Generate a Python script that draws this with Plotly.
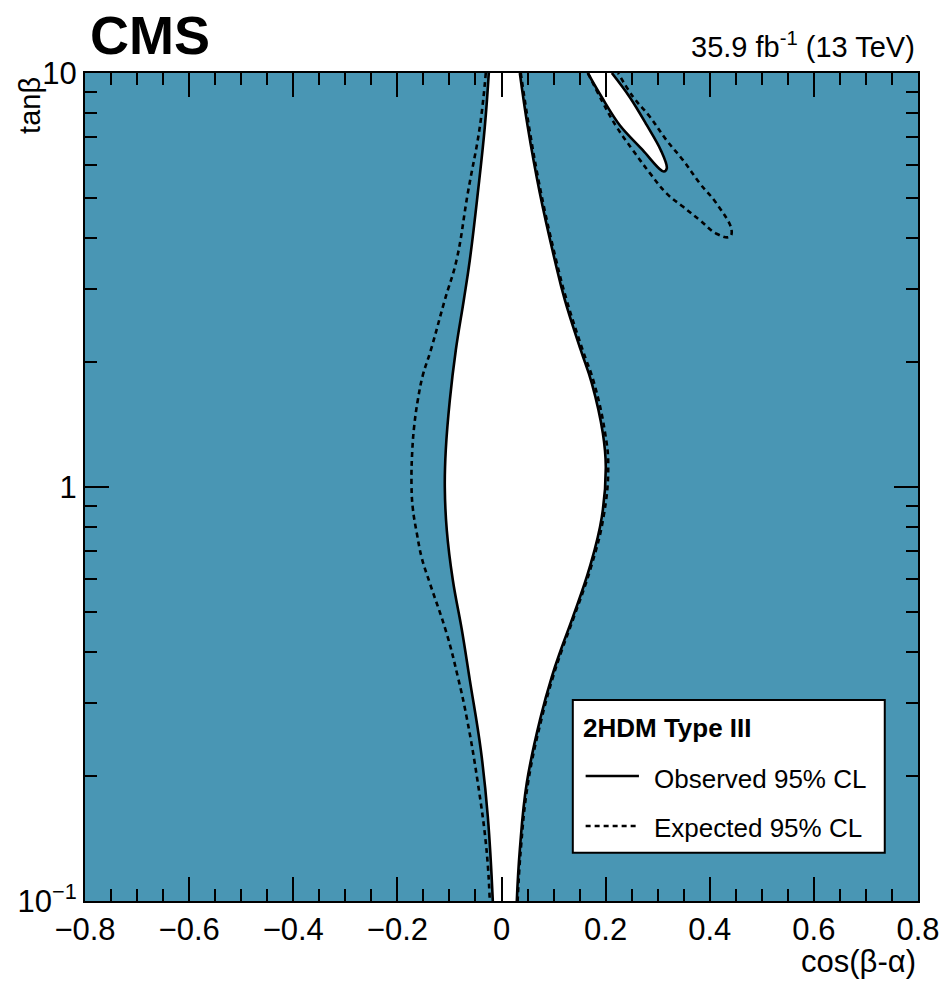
import plotly.graph_objects as go

# ---- Observed 95% CL: central allowed band (tanβ, cos(β-α)), both edges top -> bottom ----
tanb_obs_l = [10, 7.40, 5.13, 3.53, 2.83, 2.14, 1.62, 1.23, 1.00, 0.787, 0.596, 0.452, 0.342, 0.232, 0.160, 0.1]
cba_obs_l = [-0.0244, -0.0321, -0.0455, -0.0609, -0.0724, -0.0878, -0.0993, -0.1070, -0.1089, -0.1051, -0.0935, -0.0762, -0.0609, -0.0398, -0.0263, -0.0167]
tanb_obs_r = [10, 7.40, 5.13, 3.53, 2.83, 2.14, 1.78, 1.35, 1.12, 0.847, 0.641, 0.485, 0.404, 0.348, 0.279, 0.193, 0.133, 0.1]
cba_obs_r = [0.0352, 0.0505, 0.0736, 0.1024, 0.1216, 0.1523, 0.1735, 0.1946, 0.2003, 0.1927, 0.1696, 0.1370, 0.1139, 0.0966, 0.0755, 0.0486, 0.0352, 0.0294]

# ---- Observed 95% CL: upper-right island (closed loop) ----
tanb_obs_isl = [10, 8.74, 7.48, 6.51, 5.89, 5.78, 5.89, 6.51, 7.48, 8.74, 10]
cba_obs_isl = [0.1658, 0.1927, 0.2272, 0.2714, 0.3022, 0.3118, 0.3175, 0.3060, 0.2791, 0.2464, 0.2119]

# ---- Expected 95% CL: central band ----
tanb_exp_l = [10, 7.40, 5.13, 3.53, 2.83, 2.14, 1.86, 1.62, 1.41, 1.23, 1.02, 0.889, 0.774, 0.673, 0.586, 0.444, 0.348, 0.279, 0.193, 0.133, 0.1]
cba_exp_l = [-0.0302, -0.0417, -0.0647, -0.0864, -0.1089, -0.1358, -0.1512, -0.1608, -0.1675, -0.1713, -0.1729, -0.1704, -0.1627, -0.1530, -0.1377, -0.1056, -0.0839, -0.0672, -0.0455, -0.0288, -0.0225]
tanb_exp_r = [10, 7.40, 5.13, 3.53, 2.83, 2.14, 1.78, 1.35, 1.12, 0.847, 0.641, 0.485, 0.404, 0.348, 0.279, 0.193, 0.133, 0.1]
cba_exp_r = [0.037, 0.053, 0.076, 0.105, 0.125, 0.156, 0.178, 0.199, 0.205, 0.196, 0.172, 0.139, 0.116, 0.099, 0.078, 0.051, 0.037, 0.031]

# ---- Expected 95% CL: upper-right island ----
tanb_exp_isl = [10, 8.47, 7.41, 6.52, 5.73, 5.12, 4.75, 4.41, 4.09, 4.02, 4.17, 4.84, 5.41, 6.15, 6.88, 7.84, 8.75, 10]
cba_exp_isl = [0.166, 0.195, 0.221, 0.252, 0.285, 0.317, 0.349, 0.381, 0.413, 0.438, 0.442, 0.413, 0.381, 0.349, 0.317, 0.285, 0.253, 0.224]

x_ticks = [-0.8, -0.6, -0.4, -0.2, 0, 0.2, 0.4, 0.6, 0.8]
x_ticktext = ["\u22120.8", "\u22120.6", "\u22120.4", "\u22120.2", "0", "0.2", "0.4", "0.6", "0.8"]
y_ticks = [0.1, 1, 10]
y_ticktext = ["10<sup>\u22121</sup>", "1", "10"]
y_minor = [0.2, 0.3, 0.4, 0.5, 0.6, 0.7, 0.8, 0.9, 2, 3, 4, 5, 6, 7, 8, 9]

EXCLUDED = "#4996B4"
FONT = "Liberation Sans"
LW = 2.6
DASH = "5px,4px"

fig = go.Figure()

# central allowed band: left edge, then right edge filled horizontally back to it
obs_line = dict(color="black", width=LW, shape="spline", smoothing=1.2)
fig.add_trace(go.Scatter(x=cba_obs_l, y=tanb_obs_l, mode="lines", line=obs_line,
                         showlegend=False, hoverinfo="skip"))
fig.add_trace(go.Scatter(x=cba_obs_r, y=tanb_obs_r, mode="lines", line=obs_line,
                         fill="tonextx", fillcolor="white",
                         showlegend=False, hoverinfo="skip"))

# upper-right allowed island
fig.add_trace(go.Scatter(
    x=cba_obs_isl, y=tanb_obs_isl,
    mode="lines", fill="toself", fillcolor="white",
    line=dict(color="black", width=LW, shape="spline", smoothing=1.0),
    showlegend=False, hoverinfo="skip"))

# expected contours
for xs, ys in [(cba_exp_l, tanb_exp_l), (cba_exp_r, tanb_exp_r), (cba_exp_isl, tanb_exp_isl)]:
    fig.add_trace(go.Scatter(
        x=xs, y=ys, mode="lines",
        line=dict(color="black", width=LW, dash=DASH, shape="spline", smoothing=1.2),
        showlegend=False, hoverinfo="skip"))

axis_common = dict(
    showline=True, linecolor="black", linewidth=2, mirror="allticks",
    ticks="inside", tickcolor="black", tickwidth=1.5, ticklen=24,
    showgrid=False, zeroline=False, automargin=False,
    tickfont=dict(family=FONT, size=31, color="black"),
)

fig.update_xaxes(
    range=[-0.8, 0.8], tickmode="array", tickvals=x_ticks, ticktext=x_ticktext,
    minor=dict(dtick=0.05, tick0=0, ticks="inside", ticklen=12, tickwidth=1.5,
               tickcolor="black", showgrid=False),
    **axis_common)
fig.update_yaxes(
    type="log", range=[-1, 1], tickmode="array", tickvals=y_ticks, ticktext=y_ticktext,
    minor=dict(tickmode="array", tickvals=y_minor, ticks="inside", ticklen=12,
               tickwidth=1.5, tickcolor="black", showgrid=False),
    **axis_common)

# legend box
fig.add_shape(type="rect", xref="paper", yref="paper",
              x0=0.5856, x1=0.9601, y0=0.0583, y1=0.2427,
              line=dict(color="black", width=2), fillcolor="white", layer="above")
fig.add_shape(type="line", xref="paper", yref="paper",
              x0=0.601, x1=0.665, y0=0.1509, y1=0.1509,
              line=dict(color="black", width=LW), layer="above")
fig.add_shape(type="line", xref="paper", yref="paper",
              x0=0.601, x1=0.665, y0=0.0905, y1=0.0905,
              line=dict(color="black", width=LW, dash=DASH), layer="above")

annotations = [
    dict(text="<b>2HDM Type III</b>", x=0.596, y=0.2089, xanchor="left", yanchor="middle",
         font=dict(family=FONT, size=26, color="black")),
    dict(text="Observed 95% CL", x=0.6804, y=0.1473, xanchor="left", yanchor="middle",
         font=dict(family=FONT, size=26, color="black")),
    dict(text="Expected 95% CL", x=0.6804, y=0.0881, xanchor="left", yanchor="middle",
         font=dict(family=FONT, size=26, color="black")),
    dict(text="<b>CMS</b>", x=0.0034, y=1.0455, xanchor="left", yanchor="middle",
         font=dict(family=FONT, size=54, color="black")),
    dict(text="35.9 fb<sup>-1</sup> (13 TeV)", x=0.9986, y=1.0334, xanchor="right", yanchor="middle",
         font=dict(family=FONT, size=29, color="black")),
    dict(text="cos(\u03b2-\u03b1)", x=1.0, y=-0.0735, xanchor="right", yanchor="middle",
         font=dict(family=FONT, size=31, color="black")),
    dict(text="tan\u03b2", x=-0.0663, y=0.998, xanchor="center", yanchor="top", textangle=-90,
         font=dict(family=FONT, size=29, color="black")),
]
for a in annotations:
    a.update(xref="paper", yref="paper", showarrow=False)
fig.update_layout(annotations=annotations)

fig.update_layout(
    width=944, height=986,
    margin=dict(l=85, r=26, t=73, b=85, autoexpand=False),
    paper_bgcolor="white", plot_bgcolor=EXCLUDED,
    font=dict(family=FONT, color="black"),
    showlegend=False,
)

fig.write_html("out.html")
